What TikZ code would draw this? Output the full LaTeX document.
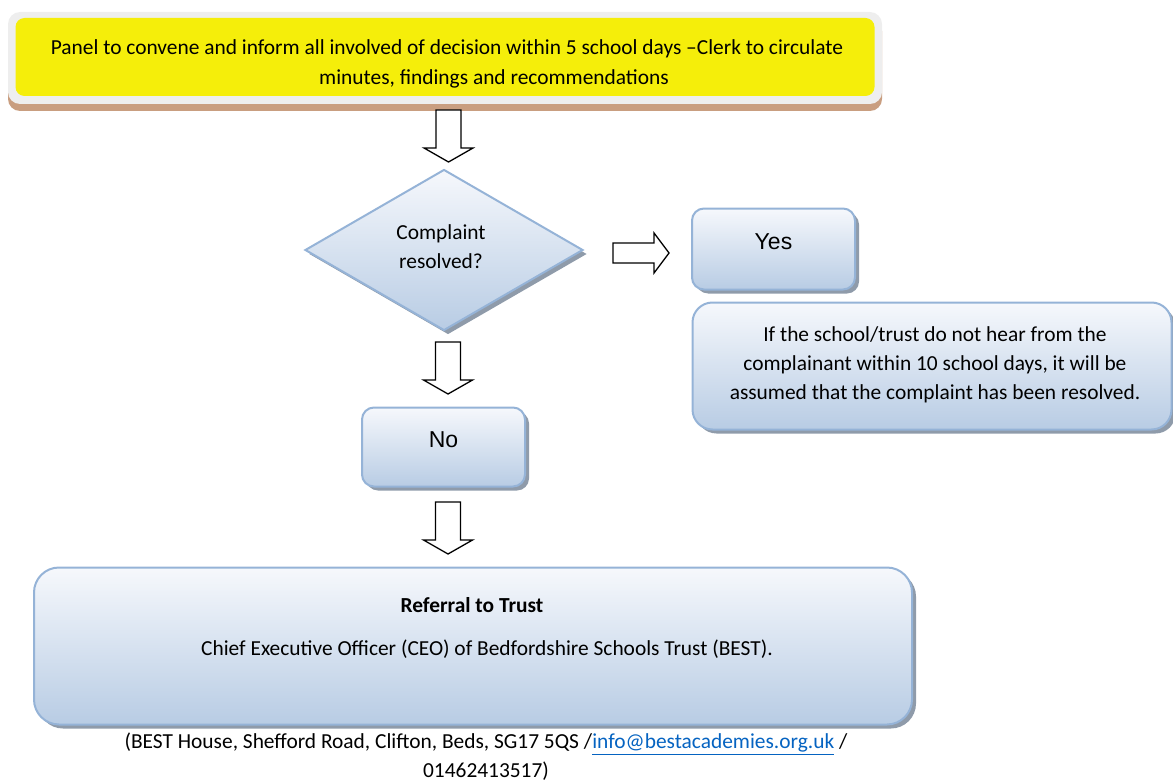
\documentclass[tikz,border=0pt]{standalone}
\usepackage{fontspec}
\setmainfont{Carlito}
\newfontfamily\arialf{Liberation Sans}
\usetikzlibrary{shapes.geometric,shadows}
\definecolor{bord}{HTML}{95B3D7}
\definecolor{topc}{HTML}{F6F8FC}
\definecolor{botc}{HTML}{B8CCE4}
\definecolor{shadc}{HTML}{8F9BAA}
\definecolor{yel}{HTML}{F5EE0A}
\definecolor{brn}{HTML}{C99E80}
\definecolor{lgray}{HTML}{EEEEEE}
\definecolor{linkc}{HTML}{0563C1}
\begin{document}
\begin{tikzpicture}[x=1pt,y=-1pt,
  txt/.style={font=\fontsize{21.4}{29}\selectfont, align=center, inner sep=0pt},
  bluebox/.style={draw=bord, line width=2pt, top color=topc, bottom color=botc,
    rounded corners=#1, inner sep=0pt,
    general shadow={fill=shadc, shadow xshift=4pt, shadow yshift=-4pt}},
  yesno/.style={text height=0pt, text depth=0pt, font=\arialf\fontsize{23}{26}\selectfont},
  downarr/.pic={\draw[line width=1.3pt, fill=white, line join=miter]
      (-12.5,0) -- (12.5,0) -- (12.5,38) -- (24.5,38) -- (0,52) -- (-24.5,38) -- (-12.5,38) -- cycle;},
  rightarr/.pic={\draw[line width=1.3pt, fill=white, line join=miter]
      (0,-10) -- (41,-10) -- (41,-20) -- (56,0) -- (41,20) -- (41,10) -- (0,10) -- cycle;}
]
\useasboundingbox (0,0) rectangle (1173,781);

% top box
\node[fill=lgray, rounded corners=12pt, minimum width=874pt, minimum height=92pt, inner sep=0pt,
  general shadow={fill=brn, shadow xshift=0pt, shadow yshift=-7pt}] (topouter) at (445,58) {};
\node[fill=yel, rounded corners=9pt, minimum width=859pt, minimum height=78pt, inner sep=0pt] (topinner) at (445,57) {};
\node[txt, font=\fontsize{21.4}{30}\selectfont] (toptext) at (447,63.5) {Panel to convene and inform all involved of decision within 5 school days --Clerk to circulate\\\hspace*{94pt}minutes, findings and recommendations};

\pic at (448.5,110) {downarr};

% diamond
\node[diamond, bluebox=0pt, minimum width=278pt, minimum height=161pt, aspect=1.73] (dec) at (444,250) {};
\node[txt] (dectext) at (441,247) {Complaint\\resolved?};

\pic at (613,253) {rightarr};

% yes
\node[bluebox=12pt, minimum width=163pt, minimum height=81pt, yesno] (yes) at (773.5,249) {Yes};

% info
\node[bluebox=20pt, minimum width=479pt, minimum height=127pt] (info) at (932,366) {};
\node[txt] (infotext) at (935,364.5) {If the school/trust do not hear from the\\complainant within 10 school days, it will be\\assumed that the complaint has been resolved.};

\pic at (448,342) {downarr};

% no
\node[bluebox=12pt, minimum width=163pt, minimum height=79pt, yesno] (no) at (443.5,447) {No};

\pic at (448,502) {downarr};

% bottom box
\node[bluebox=25pt, minimum width=878pt, minimum height=157pt] (trust) at (473,646) {};
\node[txt] (reftext) at (472,605) {\textbf{Referral to Trust}};
\node[txt] (ceotext) at (487,649) {Chief Executive Officer (CEO) of Bedfordshire Schools Trust (BEST).};

\node[txt] (footer) at (486,757) {(BEST House, Shefford Road, Clifton, Beds, SG17 5QS /{\color{linkc}\underline{info@bestacademies.org.uk}} /\\01462413517)};
\end{tikzpicture}
\end{document}
